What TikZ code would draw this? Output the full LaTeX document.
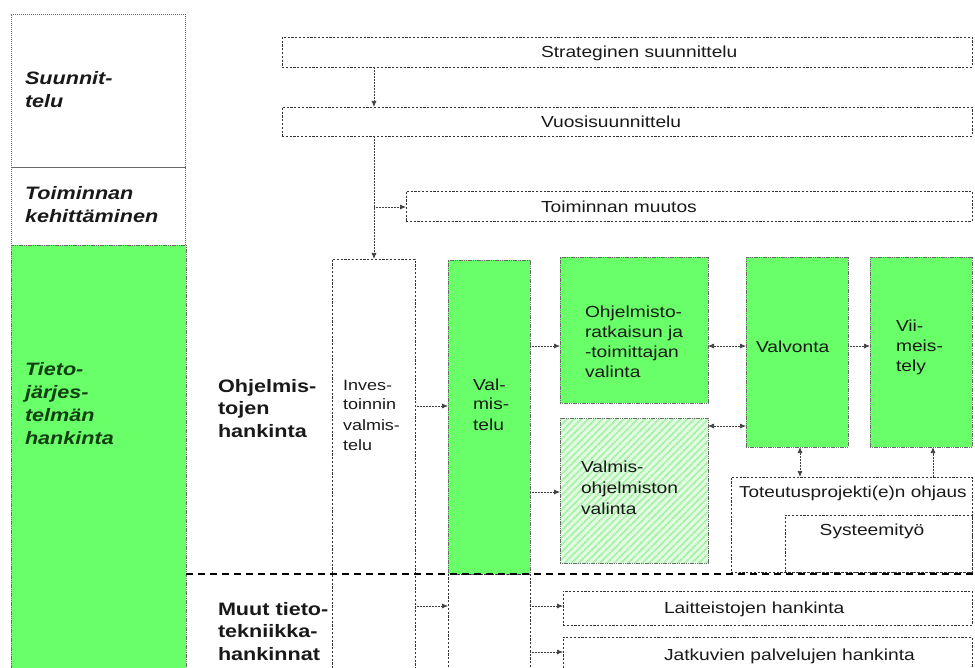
\documentclass[tikz,border=0pt]{standalone}
\usepackage{fontspec}
\setmainfont{Liberation Sans}[FakeStretch=1.2]
\usetikzlibrary{arrows.meta,patterns.meta}

\definecolor{boxgreen}{RGB}{104,255,104}
\definecolor{hatchbg}{RGB}{226,252,226}
\definecolor{hatchln}{RGB}{160,238,160}
\definecolor{edgegray}{RGB}{105,105,105}
\definecolor{labelgreen}{RGB}{18,62,18}

% multi-line text whose baseline is the first line
\newcommand{\linesof}[1]{\begin{tabular}[t]{@{}l@{}}#1\end{tabular}}

\tikzset{
  area/.style={anchor=north west, inner sep=0pt, outer sep=0pt},
  colbox/.style={area, draw=edgegray, line width=0.7pt, dash pattern=on 1.4pt off 0.6pt},
  dotbox/.style={area, draw=black!80, line width=0.6pt, dash pattern=on 2.2pt off 1.6pt},
  greenbox/.style={area, fill=boxgreen, draw=edgegray, line width=0.6pt, dash pattern=on 1.2pt off 0.6pt},
  hatchbox/.style={area, preaction={fill=hatchbg},
    pattern={Lines[angle=45,distance=5pt,line width=1.8pt]}, pattern color=hatchln,
    draw=edgegray, line width=0.6pt, dash pattern=on 1.2pt off 0.6pt},
  divider/.style={draw=black, line width=1.1pt, dash pattern=on 7pt off 5pt},
  tip/.tip={Latex[length=6pt,width=5pt]},
  link/.style={draw=black!75, line width=0.7pt, dash pattern=on 1pt off 0.5pt, -tip},
  twoway/.style={link, tip-tip},
  txt/.style={anchor=base west, inner sep=0pt, outer sep=0pt,
    font=\fontsize{16}{20}\selectfont, text=black!90},
  sidelabel/.style={txt, font=\fontsize{18}{23}\selectfont\bfseries\itshape},
  rowlabel/.style={txt, font=\fontsize{18}{22.5}\selectfont\bfseries},
}

\begin{document}
\begin{tikzpicture}[x=1pt,y=-1pt]
\useasboundingbox (0,0) rectangle (975,668);

% left column of phases
\node[colbox, minimum width=174pt, minimum height=153pt] (colplan) at (11,14) {};
\node[colbox, minimum width=174pt, minimum height=78pt] (coldev) at (11,167) {};
\node[greenbox, minimum width=175pt, minimum height=440pt] (colict) at (11,245) {};

\node[sidelabel] (lplan) at (25,85) {\linesof{Suunnit-\\telu}};
\node[sidelabel] (ldev) at (25,200) {\linesof{Toiminnan\\kehittäminen}};
\node[sidelabel, text=labelgreen] (lict) at (25,376) {\linesof{Tieto-\\järjes-\\telmän\\hankinta}};

% planning boxes
\node[dotbox, minimum width=690pt, minimum height=30pt] (strat) at (282,37) {};
\node[dotbox, minimum width=690pt, minimum height=29pt] (vuosi) at (282,107) {};
\node[dotbox, minimum width=566pt, minimum height=30pt] (toim) at (406,191) {};
\node[txt] (tstrat) at (541,58) {Strateginen suunnittelu};
\node[txt] (tvuosi) at (541,128) {Vuosisuunnittelu};
\node[txt] (ttoim) at (541,213) {Toiminnan muutos};

% acquisition boxes
\node[dotbox, minimum width=83pt, minimum height=430pt] (inv) at (332,259) {};
\node[greenbox, minimum width=82pt, minimum height=314pt] (valm) at (448,260) {};
\node[dotbox, minimum width=82pt, minimum height=110pt] (valmlow) at (448,574) {};
\node[greenbox, minimum width=148pt, minimum height=146pt] (ohj) at (560,257) {};
\node[hatchbox, minimum width=148pt, minimum height=145pt] (valmsel) at (560,418) {};
\node[greenbox, minimum width=102pt, minimum height=190pt] (valv) at (746,257) {};
\node[greenbox, minimum width=102pt, minimum height=190pt] (viim) at (870,257) {};
\node[dotbox, minimum width=241pt, minimum height=95pt] (tot) at (731,477) {};
\node[dotbox, minimum width=187pt, minimum height=57pt] (sys) at (785,515) {};
\node[dotbox, minimum width=409pt, minimum height=34pt] (laite) at (563,591) {};
\node[dotbox, minimum width=409pt, minimum height=50pt] (jatku) at (563,637) {};

% row labels
\node[rowlabel] (rsoft) at (218,392) {\linesof{Ohjelmis-\\tojen\\hankinta}};
\node[rowlabel] (rother) at (218,615) {\linesof{Muut tieto-\\tekniikka-\\hankinnat}};

% box texts
\node[txt, font=\fontsize{15}{20}\selectfont] (tinv) at (343,390) {\linesof{Inves-\\toinnin\\valmis-\\telu}};
\node[txt] (tvalm) at (473,390) {\linesof{Val-\\mis-\\telu}};
\node[txt] (tohj) at (585,318) {\linesof{Ohjelmisto-\\ratkaisun ja\\-toimittajan\\valinta}};
\node[txt] (tvalv) at (756,353) {Valvonta};
\node[txt] (tviim) at (896,332) {\linesof{Vii-\\meis-\\tely}};
\node[txt, font=\fontsize{16}{21}\selectfont] (tvalmsel) at (581,472) {\linesof{Valmis-\\ohjelmiston\\valinta}};
\node[txt, font=\fontsize{15.8}{20}\selectfont] (ttot) at (739,497) {Toteutusprojekti(e)n ohjaus};
\node[txt, anchor=base] (tsys) at (872,535) {Systeemityö};
\node[txt] (tlaite) at (664,613) {Laitteistojen hankinta};
\node[txt] (tjatku) at (664,660) {Jatkuvien palvelujen hankinta};

% divider between software and other acquisitions
\coordinate (divL) at (186,574);
\coordinate (divR) at (975,574);
\draw[divider] (divL) -- (divR);

% reference levels for connectors
\coordinate (trunk) at (374,0);
\coordinate (split) at (374,207);
\coordinate (yinv) at (0,406);
\coordinate (ylow) at (0,606);
\coordinate (ytop) at (0,346);
\coordinate (ysel) at (0,492);
\coordinate (ymid) at (0,426);
\coordinate (ylast) at (0,652);
\coordinate (xvalv) at (800,0);
\coordinate (xviim) at (933,0);

% connectors
\draw[link] (strat.south -| trunk) -- (vuosi.north -| trunk);
\draw[link] (vuosi.south -| trunk) -- (inv.north -| trunk);
\draw[link] (split) -- (toim.west |- split);
\draw[link] (inv.east |- yinv) -- (valm.west |- yinv);
\draw[link] (inv.east |- ylow) -- (valmlow.west |- ylow);
\draw[link] (valm.east |- ytop) -- (ohj.west |- ytop);
\draw[twoway] (ohj.east |- ytop) -- (valv.west |- ytop);
\draw[link] (valv.east |- ytop) -- (viim.west |- ytop);
\draw[link] (valm.east |- ysel) -- (valmsel.west |- ysel);
\draw[twoway] (valmsel.east |- ymid) -- (valv.west |- ymid);
\draw[twoway] (valv.south -| xvalv) -- (tot.north -| xvalv);
\draw[link] (tot.north -| xviim) -- (viim.south -| xviim);
\draw[link] (valmlow.east |- ylow) -- (laite.west |- ylow);
\draw[link] (valmlow.east |- ylast) -- (jatku.west |- ylast);
\end{tikzpicture}
\end{document}
